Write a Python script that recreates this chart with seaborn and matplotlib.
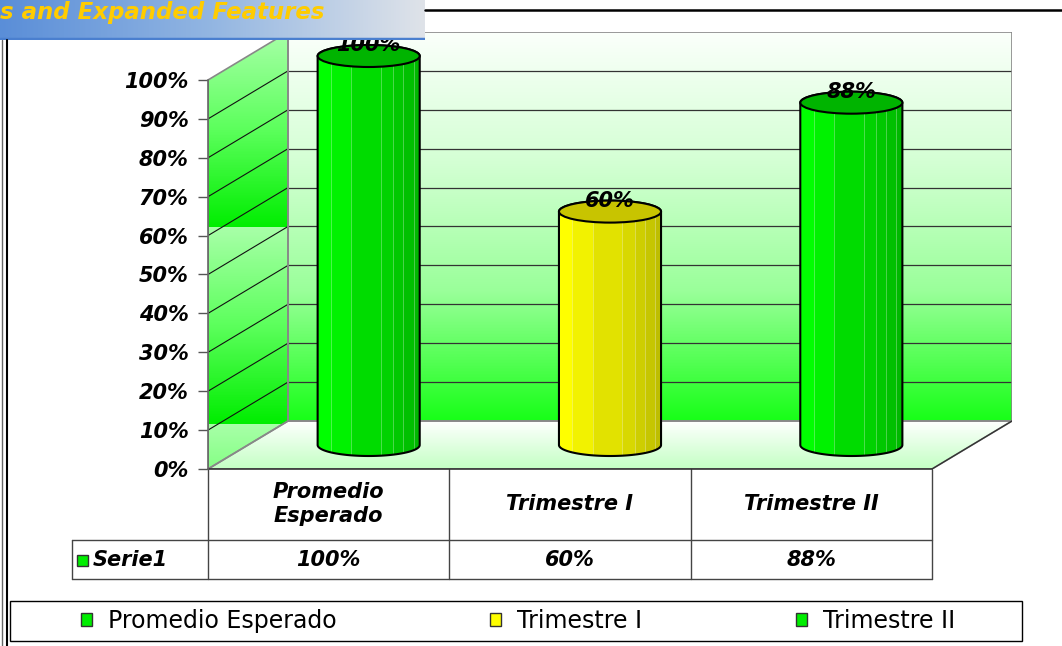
import numpy as np
import matplotlib
matplotlib.use("Agg")
import matplotlib.pyplot as plt
import matplotlib.transforms as mtransforms
import seaborn as sns
from matplotlib.patches import Rectangle, Polygon, Ellipse, Patch
from matplotlib.lines import Line2D
from matplotlib.colors import LinearSegmentedColormap

# data
categories = ["Promedio Esperado", "Trimestre I", "Trimestre II"]
table_labels = ["Promedio\nEsperado", "Trimestre I", "Trimestre II"]
values = [1.00, 0.60, 0.88]
bar_colors = ["green", "yellow", "green"]
series_name = "Serie1"
y_ticks = [0.0, 0.1, 0.2, 0.3, 0.4, 0.5, 0.6, 0.7, 0.8, 0.9, 1.0]
y_labels = ["0%", "10%", "20%", "30%", "40%", "50%", "60%", "70%", "80%", "90%", "100%"]
banner_text = "s and Expanded Features"

sns.set_style("white")
plt.rcParams["font.family"] = ["DejaVu Sans"]

# layout in pixels
W, H, DPI = 1062, 646, 100
PX_LEFT, PX_RIGHT, PX_BASE, PX_TOP = 208, 932, 469, 80
DEPTH_X, DEPTH_Y = 80, 48
ELL_PX = 11
unit_x = (PX_RIGHT - PX_LEFT) / len(categories)
unit_y = PX_BASE - PX_TOP
ddx, ddy = DEPTH_X / unit_x, DEPTH_Y / unit_y
xmin, xmax = -0.5, len(categories) - 0.5


def fy(py):
    return 1 - py / H


bold_it = dict(fontsize=15, fontweight="bold", fontstyle="italic", color="black")

fig = plt.figure(figsize=(W / DPI, H / DPI), dpi=DPI)
fig.patch.set_facecolor("white")
ax = fig.add_axes([PX_LEFT / W, fy(PX_BASE), (PX_RIGHT + DEPTH_X - PX_LEFT) / W,
                   (PX_BASE - PX_TOP + DEPTH_Y) / H])
ax.set_facecolor("none")

sns.barplot(x=categories, y=values, width=0.423, color="#00ee00", ax=ax)
bars = list(ax.patches)

# back wall
wall_cmap = LinearSegmentedColormap.from_list("wall", ["#18ff18", "#9aff9a", "#d4ffd4", "#fbfffb"])
ax.imshow(np.linspace(0, 1, 256).reshape(-1, 1), extent=[xmin + ddx, xmax + ddx, ddy, 1 + ddy],
          origin="lower", cmap=wall_cmap, aspect="auto", zorder=0)
ax.add_patch(Rectangle((xmin + ddx, ddy), xmax - xmin, 1, fill=False, edgecolor="#888888", lw=1.2, zorder=2))

# side wall
side_cmap = LinearSegmentedColormap.from_list("side", ["#a8ffa8", "#5cff5c", "#00ee00"])
side = Polygon([(xmin, 0), (xmin + ddx, ddy), (xmin + ddx, 1 + ddy), (xmin, 1)], closed=True,
               fill=False, edgecolor="#888888", lw=1.2, zorder=2)
ax.add_patch(side)
ys = np.linspace(0, 1 + ddy, 600)
period = 196 / unit_y
frac = ((1 + ddy - ys) % period) / period
side_img = ax.imshow(frac.reshape(-1, 1), extent=[xmin, xmin + ddx, 0, 1 + ddy], origin="lower",
                     cmap=side_cmap, vmin=0, vmax=1, aspect="auto", interpolation="nearest", zorder=0)
side_img.set_clip_path(side)

# floor
floor_cmap = LinearSegmentedColormap.from_list("floor", ["#c4ffc4", "#ffffff"])
floor = Polygon([(xmin, 0), (xmax, 0), (xmax + ddx, ddy), (xmin + ddx, ddy)], closed=True,
                fill=False, edgecolor="#888888", lw=1.2, zorder=2)
ax.add_patch(floor)
floor_img = ax.imshow(np.linspace(0, 1, 64).reshape(-1, 1), extent=[xmin, xmax + ddx, 0, ddy],
                      origin="lower", cmap=floor_cmap, aspect="auto", zorder=0)
floor_img.set_clip_path(floor)
ax.plot([xmax, xmax + ddx], [0, ddy], color="#333333", lw=1, zorder=2)

# gridlines on both walls
for t in y_ticks[1:-1]:
    ax.plot([xmin + ddx, xmax + ddx], [t + ddy, t + ddy], color="#333333", lw=0.9, zorder=1)
    ax.plot([xmin, xmin + ddx], [t, t + ddy], color="#111111", lw=0.8, zorder=1)

# cylinders
stripe_edges = [0, 0.13, 0.33, 0.62, 0.74, 0.84, 0.94, 1.0]
shades = {
    "green": ["#00ff00", "#00f200", "#00dc00", "#00d200", "#00c800", "#00c000", "#00b800"],
    "yellow": ["#ffff00", "#f2f200", "#e2e200", "#d8d800", "#cece00", "#c6c600", "#bebe00"],
}
tops = {"green": "#00b400", "yellow": "#c8c400"}
b = ELL_PX / unit_y
for patch, v, cname in zip(bars, values, bar_colors):
    patch.set_visible(False)
    a = patch.get_width() / 2
    cx = patch.get_x() + a + ddx / 2
    base = ddy / 2
    top = base + patch.get_height()
    th_b = np.linspace(np.pi, 2 * np.pi, 80)
    th_t = np.linspace(0, np.pi, 80)
    outline = np.concatenate([
        np.column_stack([cx + a * np.cos(th_b), base + b * np.sin(th_b)]),
        np.column_stack([cx + a * np.cos(th_t), top + b * np.sin(th_t)]),
    ])
    sil = Polygon(outline, closed=True, fill=False, edgecolor="black", lw=1.5, zorder=5)
    ax.add_patch(sil)
    for f0, f1, col in zip(stripe_edges[:-1], stripe_edges[1:], shades[cname]):
        r = Rectangle((cx - a + 2 * a * f0, base - b), 2 * a * (f1 - f0), top - base + 2 * b,
                      facecolor=col, lw=0, zorder=3)
        ax.add_patch(r)
        r.set_clip_path(sil)
    for f in stripe_edges[1:-1]:
        ln, = ax.plot([cx - a + 2 * a * f] * 2, [base - b, top], color="white", alpha=0.3, lw=0.7, zorder=4)
        ln.set_clip_path(sil)
    ax.add_patch(Ellipse((cx, top), 2 * a, 2 * b, facecolor=tops[cname], edgecolor="black", lw=1.5, zorder=6))
    ax.text(cx, top + b, f"{v:.0%}", ha="center", va="center", zorder=7, **bold_it)

# axes styling
ax.set_xlim(xmin, xmax + ddx)
ax.set_ylim(0, 1 + ddy)
ax.set_xticks([])
ax.set_xlabel("")
ax.set_ylabel("")
ax.set_yticks(y_ticks)
ax.set_yticklabels(y_labels, **bold_it)
ax.tick_params(axis="y", length=7.5, width=1, color="#555555", pad=6.5, left=True)
for s in ["top", "right", "bottom"]:
    ax.spines[s].set_visible(False)
ax.spines["left"].set_bounds(0, 1)
ax.spines["left"].set_color("#666666")
ax.spines["left"].set_linewidth(1.2)

# data table
tb = mtransforms.blended_transform_factory(ax.transData, fig.transFigure)
centers = [p.get_x() + p.get_width() / 2 for p in bars]
edges = [centers[0] - 0.5] + [c + 0.5 for c in centers]
key_left = xmin - (PX_LEFT - 72) / unit_x
line_kw = dict(transform=tb, color="#444444", lw=1, clip_on=False)
for e in edges:
    ax.plot([e, e], [fy(469), fy(579)], **line_kw)
ax.plot([key_left, key_left], [fy(540), fy(579)], **line_kw)
ax.plot([key_left, xmax], [fy(540), fy(540)], **line_kw)
ax.plot([key_left, xmax], [fy(579), fy(579)], **line_kw)
ax.plot([xmin, xmax], [fy(469), fy(469)], transform=tb, color="#333333", lw=1.2, clip_on=False)
for c, lbl, v in zip(centers, table_labels, values):
    ax.text(c, fy(504), lbl, transform=tb, ha="center", va="center", multialignment="center",
            linespacing=1.3, **bold_it)
    ax.text(c, fy(560), f"{v:.0%}", transform=tb, ha="center", va="center", **bold_it)
key = Rectangle((xmin - (PX_LEFT - 77) / unit_x, fy(566)), 11 / unit_x, 11 / H, transform=tb,
                facecolor="#00ee00", edgecolor="#333333", lw=1, clip_on=False)
ax.add_patch(key)
ax.text(xmin - (PX_LEFT - 93) / unit_x, fy(560), series_name, transform=tb, ha="left", va="center", **bold_it)

# legend
fig.add_artist(Rectangle((10 / W, fy(641)), 1012 / W, 40 / H, transform=fig.transFigure,
                         fill=False, edgecolor="black", lw=1))
leg_colors = {"green": "#00ee00", "yellow": "#ffff00"}
handles = [Patch(facecolor=leg_colors[c], edgecolor="#333333", lw=1) for c in bar_colors]
fig.legend(handles, categories, loc="center", bbox_to_anchor=(518 / W, fy(621)), ncol=3,
           frameon=False, fontsize=17, labelcolor="black", handlelength=0.47, handleheight=0.47,
           handletextpad=0.68, columnspacing=6.5)

# banner and frame lines
bax = fig.add_axes([0, fy(40), 425 / W, 40 / H])
banner_cmap = LinearSegmentedColormap.from_list("banner", ["#5a8ed8", "#93b6e2", "#dfe3e9"])
bax.imshow(np.linspace(0, 1, 256).reshape(1, -1), cmap=banner_cmap, aspect="auto", extent=[0, 1, 0, 1])
bax.set_xlim(0, 1)
bax.set_ylim(0, 1)
bax.set_axis_off()
bax.axhline(0.03, color="#4a7fcf", lw=2.5)
bax.text(0.0, 0.7, banner_text, transform=bax.transAxes, ha="left", va="center", color="#ffcc00",
         fontsize=16.5, fontweight="bold", fontstyle="italic")
fig.add_artist(Line2D([425 / W, 1], [fy(10), fy(10)], color="black", lw=1.8))
fig.add_artist(Line2D([7 / W, 7 / W], [0, fy(40)], color="black", lw=1.5))
fig.add_artist(Line2D([2 / W, 2 / W], [0, fy(40)], color="#666666", lw=1))

fig.savefig("out.png", dpi=DPI)
